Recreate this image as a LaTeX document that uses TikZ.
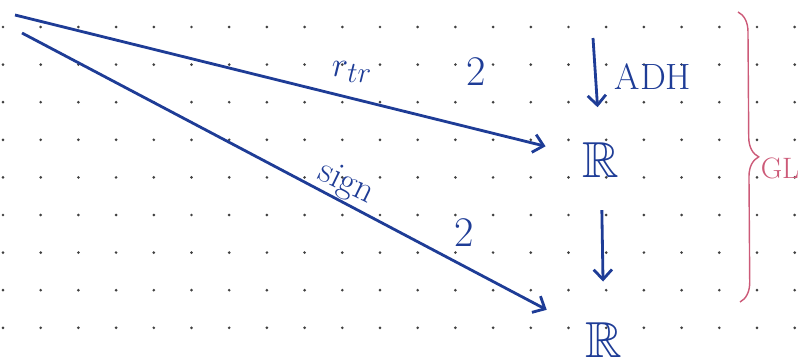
\documentclass[tikz,border=0pt]{standalone}
\usepackage{amssymb}
\usetikzlibrary{arrows.meta,decorations.pathreplacing}
\definecolor{ink}{HTML}{1E3C96}
\definecolor{redink}{HTML}{CC5A78}
\definecolor{grid}{HTML}{404040}
\tikzset{
  obj/.style={text=ink,font=\fontsize{36}{40}\selectfont,inner sep=1pt},
  lbl/.style={text=ink,font=\fontsize{30}{34}\selectfont,inner sep=1pt},
  arr/.style={-{Straight Barb[length=7pt,width=13pt]},ink,line width=2pt},
  griddot/.style={fill=grid,draw=none},
  gbrace/.style={redink,line width=1pt,decorate,decoration={brace,amplitude=14pt}},
}

\begin{document}
\begin{tikzpicture}[x=0.025cm,y=-0.025cm]
\useasboundingbox (0,0) rectangle (799,356);
% dotted paper
\foreach \i in {0,...,21}
  \foreach \j in {0,...,8}
    \fill[griddot] ({3+37.7*\i},{27+37.6*\j}) circle (1.05pt);
\coordinate (src) at (15,15);
\coordinate (srcb) at (22,33);
\coordinate (adhtop) at (593,38);
\node[obj] (r1) at (601,160) {$\mathbb{R}$};
\node[obj] (r2) at (604,340) {$\mathbb{R}$};
\node[lbl] (rtr) at (352,72) {$r_{tr}$};
\node[lbl,font=\fontsize{26}{30}\selectfont,rotate=-26] (sgn) at (346,184) {sign};
\node[lbl] (c1) at (476,72) {2};
\node[lbl] (c2) at (464,233) {2};
\node[lbl,font=\fontsize{26}{30}\selectfont] (adh) at (653,77) {ADH};
\node[text=redink,font=\fontsize{21}{24}\selectfont,inner sep=1pt] (gl) at (780,168) {GL};
\draw[arr,shorten >=26pt] (src) -- (r1);
\draw[arr,shorten >=30pt] (srcb) -- (r2);
\draw[arr,shorten >=24pt] (adhtop) -- (r1);
\draw[arr,shorten <=22pt,shorten >=28pt] (r1) -- (r2);
\draw[gbrace] (738,12) -- (740,302);
\end{tikzpicture}
\end{document}
